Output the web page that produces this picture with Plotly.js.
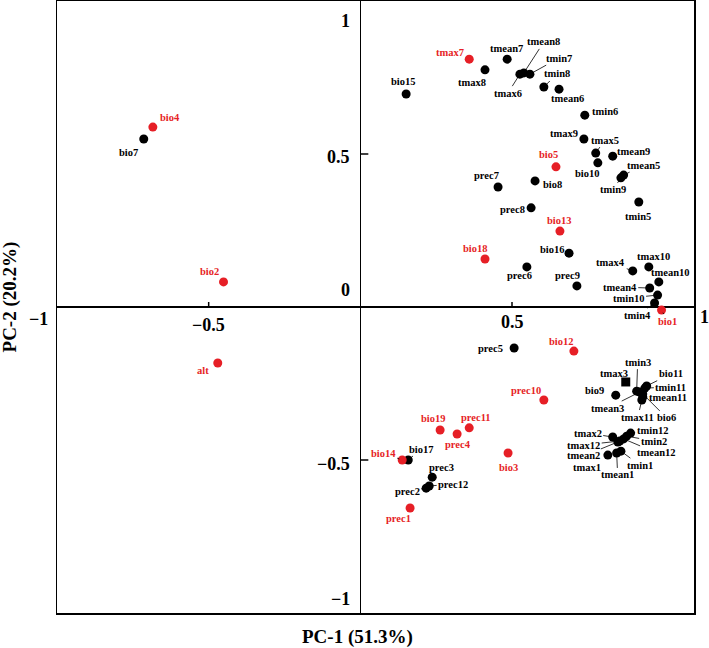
<!DOCTYPE html>
<html>
<head>
<meta charset="utf-8">
<script src="https://cdn.plot.ly/plotly-3.0.1.min.js"></script>
<style>html,body{margin:0;padding:0;background:#fff;}#chart{width:709px;height:648px;}</style>
</head>
<body>
<div id="chart"></div>
<script>
// ---- data ----
const names = ["bio1","bio2","bio3","bio4","bio5","bio6","bio7","bio8","bio9","bio10",
  "bio11","bio12","bio13","bio14","bio15","bio16","bio17","bio18","bio19","alt",
  "prec1","prec2","prec3","prec4","prec5","prec6","prec7","prec8","prec9","prec10","prec11","prec12",
  "tmax1","tmax2","tmax3","tmax4","tmax5","tmax6","tmax7","tmax8","tmax9","tmax10","tmax11","tmax12",
  "tmin1","tmin2","tmin3","tmin4","tmin5","tmin6","tmin7","tmin8","tmin9","tmin10","tmin11","tmin12",
  "tmean1","tmean2","tmean3","tmean4","tmean5","tmean6","tmean7","tmean8","tmean9","tmean10","tmean11","tmean12"];
const pc1 = [0.993,-0.451,0.487,-0.684,0.645,0.931,-0.714,0.576,0.842,0.783,
  0.944,0.704,0.658,0.138,0.151,0.688,0.158,0.411,0.263,-0.470,
  0.164,0.217,0.237,0.319,0.507,0.549,0.454,0.563,0.714,0.605,0.359,0.227,
  0.816,0.832,0.875,0.898,0.776,0.526,0.359,0.411,0.737,0.951,0.928,0.855,
  0.859,0.878,0.911,0.970,0.918,0.740,0.559,0.605,0.859,0.980,0.938,0.891,
  0.845,0.849,0.921,0.954,0.868,0.655,0.484,0.539,0.832,0.984,0.931,0.868];
const pc2 = [-0.010,0.082,-0.477,0.588,0.458,-0.284,0.549,0.412,-0.288,0.471,
  -0.258,-0.144,0.248,-0.500,0.696,0.176,-0.500,0.157,-0.402,-0.183,
  -0.657,-0.592,-0.556,-0.415,-0.134,0.131,0.392,0.324,0.069,-0.304,-0.395,-0.585,
  -0.484,-0.425,-0.245,0.118,0.503,0.761,0.810,0.775,0.549,0.131,-0.304,-0.438,
  -0.471,-0.422,-0.275,0.013,0.343,0.627,0.761,0.719,0.422,0.039,-0.265,-0.412,
  -0.477,-0.441,-0.278,0.062,0.431,0.712,0.810,0.765,0.493,0.082,-0.294,-0.431];
const highlighted = ["bio1","bio2","bio3","bio4","bio5","bio12","bio13","bio14","bio18","bio19",
  "alt","prec1","prec4","prec10","prec11","tmax7"];
const xTicks = [-1,-0.5,0.5,1];
const xTickText = ["\u22121","\u22120.5","0.5","1"];
const yTicks = [1,0.5,0,-0.5,-1];
const yTickText = ["1","0.5","0","\u22120.5","\u22121"];
const xTitle = "PC-1 (51.3%)";
const yTitle = "PC-2 (20.2%)";

// ---- style / placement (pixels) ----
const RED = "#e61f26";
const FONT = "Liberation Serif, Times New Roman, serif";
const squareMarkers = ["tmax3"];
// [dx, dy (down +), leader line]
const labelPos = {
 bio4:[17,-10,0], bio7:[-15,13,0], bio2:[-14,-10,0], alt:[-15,7,0],
 tmax7:[-19,-7,0], tmean7:[-1,-11,0], tmean8:[20,-31,1], tmax6:[-12,19,1], tmin7:[29,-16,1],
 tmax8:[-13,13,0], bio15:[-3,-13,0], tmin8:[13,-13,1], tmean6:[8,9,0], tmin6:[20,-4,0],
 tmax9:[-20,-6,0], tmax5:[9,-13,1], tmean9:[21,-5,0], bio10:[-10,11,0], bio5:[-7,-12,0],
 tmean5:[20,-10,1], tmin9:[-8,12,1], prec7:[-12,-12,0], bio8:[17,4,0], tmin5:[-1,14,0],
 prec8:[-19,2,0], bio13:[0,-11,0], bio18:[-10,-10,0], bio16:[-17,-4,0], prec6:[-7,9,0],
 prec9:[-9,-10,0], tmax4:[-22,-8,1], tmax10:[5,-10,0], tmean10:[12,-9,1], tmean4:[-30,-1,1],
 tmin10:[-29,3,1], tmin4:[-17,12,1], bio1:[6,11,1],
 prec5:[-24,0,0], bio12:[-12,-10,0], tmax3:[-12,-8,0], tmin3:[1,-29,1], bio11:[24,-12,1],
 tmin11:[26,-1,1], tmean11:[25,1,1], bio9:[-21,-5,0], tmean3:[-32,16,1], tmax11:[-4,17,1],
 bio6:[24,24,1], prec10:[-18,-10,0], bio19:[-7,-12,0], prec11:[7,-10,0], prec4:[1,11,0],
 bio3:[0,15,0], bio14:[-19,-7,1], bio17:[13,-11,1], prec3:[9,-10,0], prec12:[24,-2,1],
 prec2:[-19,3,1], prec1:[-12,10,0], tmax2:[-25,-4,1], tmin12:[22,-3,1], tmin2:[27,5,1],
 tmean12:[33,14,1], tmax12:[-36,4,1], tmean2:[-34,14,1], tmax1:[-21,12,0], tmean1:[1,22,1],
 tmin1:[19,14,1]
};

// ---- build ----
function subset(isRed){
  const x=[],y=[],t=[],sym=[];
  names.forEach((n,i)=>{
    if ((highlighted.indexOf(n)>=0)===isRed){
      x.push(pc1[i]); y.push(pc2[i]); t.push(n);
      sym.push(squareMarkers.indexOf(n)>=0 ? "square" : "circle");
    }
  });
  return {x,y,t,sym};
}
const blk = subset(false), red = subset(true);
const traces = [
  {type:"scatter", mode:"markers", x:blk.x, y:blk.y, text:blk.t, hoverinfo:"text",
   marker:{color:"#000", size:9, symbol:blk.sym}, showlegend:false},
  {type:"scatter", mode:"markers", x:red.x, y:red.y, text:red.t, hoverinfo:"text",
   marker:{color:RED, size:9, symbol:red.sym}, showlegend:false}
];

const annotations = [];
names.forEach((n,i)=>{
  const p = labelPos[n] || [0,-12,0];
  const col = highlighted.indexOf(n)>=0 ? RED : "#000";
  const a = {x:pc1[i], y:pc2[i], xref:"x", yref:"y", text:n,
    font:{family:FONT, size:10.5, color:col, weight:"bold"}};
  if (p[2]){
    Object.assign(a,{showarrow:true, ax:p[0], ay:p[1], arrowhead:0, arrowwidth:0.8,
      arrowcolor:"#000", standoff:3});
  } else {
    Object.assign(a,{showarrow:false, xshift:p[0], yshift:-p[1]});
  }
  annotations.push(a);
});
// tick labels
const xTickShift = {"-1":[-19,-12], "-0.5":[0,-18], "0.5":[0,-15], "1":[41,-10]};
xTicks.forEach((v,i)=>{
  const s = xTickShift[String(v)];
  annotations.push({x:v, y:0, xref:"x", yref:"y", text:xTickText[i], showarrow:false,
    xshift:s[0], yshift:s[1], font:{family:FONT, size:18, color:"#000", weight:"bold"}});
});
const yTickShift = {"1":-20, "0.5":-3, "0":17, "-0.5":-4, "-1":14};
yTicks.forEach((v,i)=>{
  annotations.push({x:0, y:v, xref:"x", yref:"y", text:yTickText[i], showarrow:false,
    xanchor:"right", xshift:-8, yshift:yTickShift[String(v)],
    font:{family:FONT, size:18, color:"#000", weight:"bold"}});
});
// axis titles
annotations.push({xref:"paper", yref:"paper", x:0.472, y:-0.039, text:xTitle, showarrow:false,
  xanchor:"center", yanchor:"middle", font:{family:FONT, size:19, color:"#000", weight:"bold"}});
annotations.push({xref:"paper", yref:"paper", x:-0.074, y:0.517, text:yTitle, showarrow:false,
  textangle:-90, xanchor:"center", yanchor:"middle", font:{family:FONT, size:19, color:"#000", weight:"bold"}});

// small tick marks on the zero lines
const shapes = [];
[-0.5,0.5].forEach(v=>{
  shapes.push({type:"line", xref:"x", yref:"y", ysizemode:"pixel", yanchor:0,
    x0:v, x1:v, y0:0, y1:5, line:{color:"#000", width:1.5}});
});
[-0.5,0.5].forEach(v=>{
  shapes.push({type:"line", xref:"x", yref:"y", xsizemode:"pixel", xanchor:0,
    y0:v, y1:v, x0:0, x1:8, line:{color:"#000", width:1.5}});
});

const layout = {
  width:709, height:648,
  margin:{l:57, r:15, t:1, b:35},
  paper_bgcolor:"#fff", plot_bgcolor:"#fff",
  showlegend:false,
  xaxis:{range:[-1,1.1], showgrid:false, zeroline:true, zerolinecolor:"#000", zerolinewidth:1.5,
    showline:true, mirror:true, linecolor:"#000", linewidth:1.5, ticks:"", showticklabels:false, fixedrange:true},
  yaxis:{range:[-1,1], showgrid:false, zeroline:true, zerolinecolor:"#000", zerolinewidth:1.5,
    showline:true, mirror:true, linecolor:"#000", linewidth:1.5, ticks:"", showticklabels:false, fixedrange:true},
  annotations:annotations,
  shapes:shapes
};
Plotly.newPlot("chart", traces, layout, {displayModeBar:false, staticPlot:true});
</script>
</body>
</html>
